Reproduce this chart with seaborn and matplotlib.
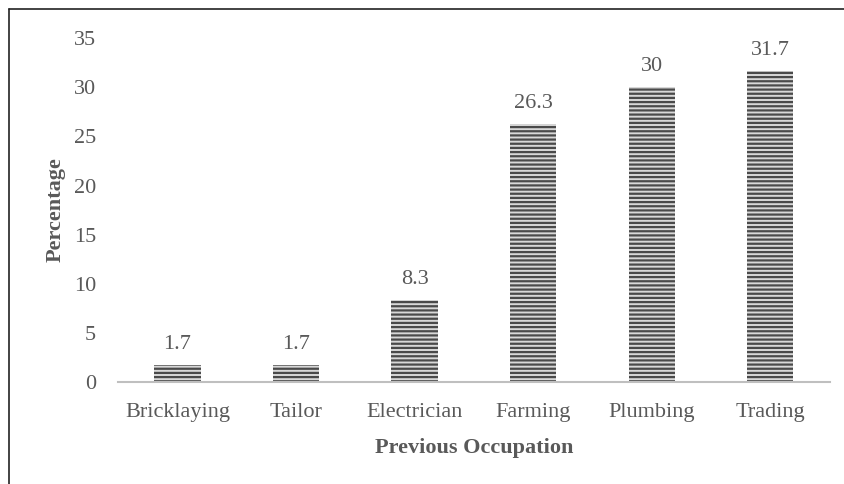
import matplotlib
matplotlib.use("Agg")
import matplotlib.pyplot as plt
from matplotlib.lines import Line2D
import seaborn as sns
import pandas as pd

occupations = ["Bricklaying", "Tailor", "Electrician", "Farming", "Plumbing", "Trading"]
percentages = [1.7, 1.7, 8.3, 26.3, 30, 31.7]
value_labels = ["1.7", "1.7", "8.3", "26.3", "30", "31.7"]
y_ticks = [0, 5, 10, 15, 20, 25, 30, 35]

sns.set_theme(style="white")
plt.rcParams["font.family"] = ["Liberation Serif", "DejaVu Serif"]
plt.rcParams["hatch.linewidth"] = 1.6
plt.rcParams["hatch.color"] = "#4a4a4a"

text_color = "#595959"
df = pd.DataFrame({"Occupation": occupations, "Percentage": percentages})

fig = plt.figure(figsize=(8.44, 4.84), dpi=100)
ax = fig.add_axes([0.14, 0.211, 0.843, 0.710])

sns.barplot(data=df, x="Occupation", y="Percentage", ax=ax,
            color="#d8d8d8", width=0.39, saturation=1, linewidth=0)
for bar in ax.patches:
    bar.set_hatch("----")
    bar.set_edgecolor("#4a4a4a")
    bar.set_linewidth(0)

for bar, txt in zip(ax.patches, value_labels):
    ax.annotate(txt, (bar.get_x() + bar.get_width() / 2, bar.get_height()),
                xytext=(0, 8), textcoords="offset points",
                ha="center", va="bottom", fontsize=16, color=text_color)

ax.set_ylim(0, 35)
ax.set_yticks(y_ticks)
ax.set_xlim(-0.5, len(occupations) - 0.5)
for side in ["top", "right", "left"]:
    ax.spines[side].set_visible(False)
ax.spines["bottom"].set_color("#bfbfbf")
ax.spines["bottom"].set_linewidth(1.5)
ax.tick_params(axis="both", length=0, labelsize=16, labelcolor=text_color)
ax.tick_params(axis="y", pad=16)
ax.tick_params(axis="x", pad=15)

ax.set_xlabel("Previous Occupation", fontsize=16, fontweight="bold",
              color=text_color, labelpad=12)
ax.set_ylabel("Percentage", fontsize=16, fontweight="bold",
              color=text_color, labelpad=6)

# frame lines along the top and left of the figure
fig.add_artist(Line2D([9 / 844, 9 / 844], [0, 1 - 9 / 484],
                      transform=fig.transFigure, color="#222222", lw=1.2))
fig.add_artist(Line2D([9 / 844, 1], [1 - 9 / 484, 1 - 9 / 484],
                      transform=fig.transFigure, color="#222222", lw=1.2))

fig.savefig("out.png", dpi=100)
